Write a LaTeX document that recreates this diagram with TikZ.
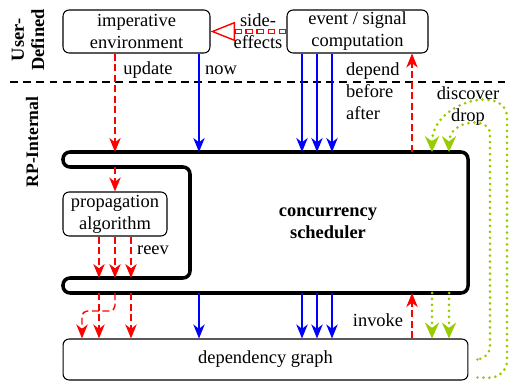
\documentclass[tikz,border=0pt]{standalone}
\usepackage{fontspec}
\setmainfont{Liberation Serif}
\usetikzlibrary{arrows.meta,calc}
\definecolor{dropgreen}{RGB}{153,204,0}

\begin{document}
\begin{tikzpicture}[x=0.02cm, y=-0.02cm,
  font=\fontsize{10.5}{12.5}\selectfont,
  box/.style={draw, rounded corners=3.5pt, line width=0.6pt, align=center, inner sep=0pt},
  redarr/.style={red, line width=0.8pt, dash pattern=on 4pt off 2pt, -{Stealth[length=8pt,width=6.5pt,inset=2.5pt]}},
  bluearr/.style={blue, line width=0.8pt, -{Stealth[length=8pt,width=6.5pt,inset=2.5pt]}},
  greenarr/.style={dropgreen, line width=1.7pt, line cap=round, dash pattern=on 0pt off 3.4pt, -{Stealth[length=9pt,width=8pt,inset=3pt]}},
  sidefx/.style={red, line width=3pt, dash pattern=on 4.5pt off 1.8pt, -{Triangle[open, length=14pt, width=11pt, line width=0.8pt]},
    postaction={draw=white, line width=1.4pt, dash pattern=on 2.7pt off 3.6pt, dash phase=5.4pt, -, shorten >=14.5pt}},
  ]
  \useasboundingbox (0,0) rectangle (510,381);

  % border between user code and the runtime
  \draw[line width=0.7pt, dash pattern=on 4.5pt off 3pt] (10,82) -- (510,82);
  \node[font=\fontsize{10.5}{11.5}\selectfont\bfseries, rotate=90, align=center] (user) at (28,40) {User-\\Defined};
  \node[font=\bfseries, rotate=90] (rp) at (32,142) {RP-Internal};

  \node[box, minimum width=2.94cm, minimum height=0.86cm] (imp) at (136.5,31.5) {imperative\\environment};
  \node[box, minimum width=2.82cm, minimum height=0.86cm] (evt) at (357.5,31.5) {event / signal\\computation};
  \node[box, minimum width=2.08cm, minimum height=0.88cm] (prop) at (115,214) {propagation\\algorithm};
  \node[box, minimum width=8.1cm, minimum height=0.82cm] (dep) at (265.5,359.5) {dependency graph};

  % scheduler outline
  \draw[line width=2pt, rounded corners=4pt] (63,152) -- (468,152) -- (468,293) -- (63,293)
    -- (63,278) -- (190,278) -- (190,167) -- (63,167) -- cycle;
  \node[font=\fontsize{10.5}{12.5}\selectfont\bfseries, align=center] (sched) at (328,223) {concurrency\\scheduler};

  \coordinate (stop) at (0,152);
  \coordinate (sin) at (0,167);
  \coordinate (sbot) at (0,278);
  \coordinate (slow) at (0,293);
  \coordinate (cu) at (115,0);
  \coordinate (cn) at (199,0);
  \coordinate (cd1) at (302,0);
  \coordinate (cd2) at (317,0);
  \coordinate (cd3) at (332,0);
  \coordinate (ci) at (412,0);
  \coordinate (cg1) at (432,0);
  \coordinate (cg2) at (449,0);
  \coordinate (cr0) at (82,0);
  \coordinate (cr1) at (99,0);
  \coordinate (cr3) at (131,0);

  \draw[sidefx] (evt.west) -- (imp.east);
  \node[align=center] (side) at (258,31) {side-\\effects};

  % user code -> scheduler
  \draw[redarr] (imp.south -| cu) -- (cu |- stop);
  \draw[bluearr] (imp.south -| cn) -- (cn |- stop);
  \foreach \c in {cd1,cd2,cd3}
    \draw[bluearr] (evt.south -| \c) -- (\c |- stop);
  \draw[redarr] (ci |- stop) -- (evt.south -| ci);
  \node (upd) at (148,70) {update};
  \node (now) at (221,70) {now};
  \node[anchor=west, align=left] (dba) at (340,91) {depend\\before\\after};

  % propagation
  \draw[redarr] (cu |- sin) -- (prop.north);
  \foreach \c in {cr1,cu,cr3}
    \draw[redarr] (prop.south -| \c) -- (\c |- sbot);
  \node (reev) at (153,250) {reev};

  % scheduler -> dependency graph
  \draw[redarr] (cr1 |- slow) -- (cr1 |- dep.north);
  \draw[redarr, rounded corners=3pt] (cu |- slow) -- ++(0,18) -| (cr0 |- dep.north);
  \draw[redarr] (cr3 |- slow) -- (cr3 |- dep.north);
  \draw[bluearr] (cn |- slow) -- (cn |- dep.north);
  \foreach \c in {cd1,cd2,cd3}
    \draw[bluearr] (\c |- slow) -- (\c |- dep.north);
  \draw[redarr] (dep.north -| ci) -- (ci |- slow);
  \node (inv) at (378,320) {invoke};
  \foreach \c in {cg1,cg2}
    \draw[greenarr] (\c |- slow) -- (dep.north -| \c);

  % discover / drop loops
  \draw[greenarr, rounded corners=8pt] ($(dep.east)+(9,0)$) -- (490,360) -- (490,148)
    to[out=90, in=90, looseness=2] (cg2 |- stop);
  \draw[greenarr, rounded corners=10pt] ($(dep.east)+(9,18)$) -- (507,378) -- (507,135)
    to[out=90, in=90, looseness=1.7] (cg1 |- stop);
  \node[align=center] (dd) at (468,106) {discover\\drop};
\end{tikzpicture}
\end{document}
